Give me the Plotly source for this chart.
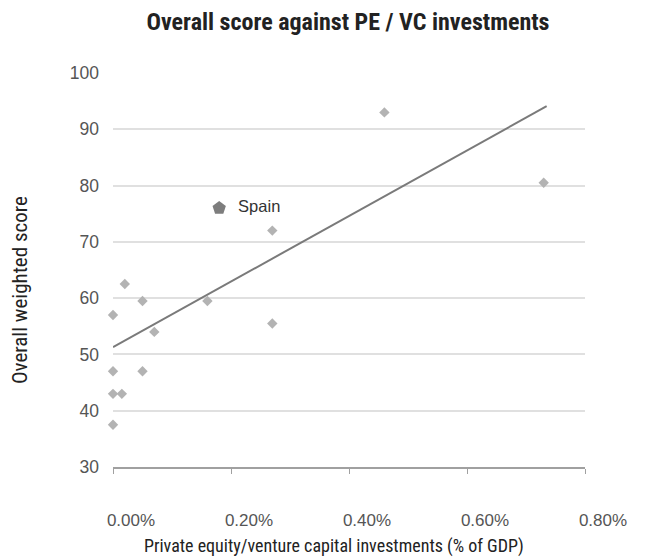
import plotly.graph_objects as go

# Data
pe_vc_pct = [0.46, 0.73, 0.27, 0.27, 0.16, 0.02, 0.05, 0.00, 0.07, 0.00, 0.05, 0.00, 0.015, 0.00]
overall_score = [93.0, 80.5, 72.0, 55.5, 59.5, 62.5, 59.5, 57.0, 54.0, 47.0, 47.0, 43.0, 43.0, 37.5]

spain_x = [0.18]
spain_y = [76.0]
spain_label = ["Spain"]

trend_x = [0.0, 0.735]
trend_y = [51.3, 94.1]

x_ticks = [0.0, 0.2, 0.4, 0.6, 0.8]
x_tick_labels = ["0.00%", "0.20%", "0.40%", "0.60%", "0.80%"]
y_ticks = [30, 40, 50, 60, 70, 80, 90, 100]

title_text = "Overall score against PE / VC investments"
x_title = "Private equity/venture capital investments (% of GDP)"
y_title = "Overall weighted score"

narrow = "Roboto Condensed, Liberation Sans, sans-serif"
helv = "Liberation Sans, Arial, sans-serif"

# page body has an 8px margin, so the figure is sized to fill the rest of the window
W, H = 653, 552

fig = go.Figure()

fig.add_trace(go.Scatter(
    x=pe_vc_pct, y=overall_score, mode="markers",
    marker=dict(symbol="diamond", size=8, color="#b3b3b3"),
    cliponaxis=False, showlegend=False, hoverinfo="x+y",
))

fig.add_trace(go.Scatter(
    x=trend_x, y=trend_y, mode="lines",
    line=dict(color="#7a7a7a", width=2),
    showlegend=False, hoverinfo="skip",
))

fig.add_trace(go.Scatter(
    x=spain_x, y=spain_y, mode="markers+text",
    marker=dict(symbol="pentagon", size=14, color="#7d7d7d"),
    text=["  " + s for s in spain_label], textposition="middle right",
    textfont=dict(family=helv, size=16.5, color="#333333"),
    cliponaxis=False, showlegend=False,
))

fig.add_annotation(
    text=x_title, xref="paper", yref="paper",
    x=(334 - 8 - 105) / 472, y=-(538 - 459) / 394, xanchor="center", yanchor="middle",
    showarrow=False, font=dict(family=narrow, size=18, color="#222222"),
)
fig.add_annotation(
    text=y_title, xref="paper", yref="paper", textangle=-90,
    x=(12 - 105) / 472, y=(459 - 282) / 394, xanchor="center", yanchor="middle",
    showarrow=False, font=dict(family=narrow, size=21, color="#222222"),
)

fig.update_layout(
    width=W, height=H,
    margin=dict(l=105, r=76, t=65, b=93, autoexpand=False),
    paper_bgcolor="white", plot_bgcolor="white",
    title=dict(
        text="<b>" + title_text + "</b>",
        x=340 / W, xanchor="center", y=1 - 14 / H, yanchor="middle",
        font=dict(family=narrow, size=24, color="#222222"),
    ),
    xaxis=dict(
        range=[0, 0.8], tickvals=x_ticks, ticktext=x_tick_labels,
        showgrid=False, zeroline=False, automargin=False,
        showline=True, linecolor="#a0a0a0", linewidth=1.5,
        ticks="outside", ticklen=5, tickcolor="#a0a0a0",
        ticklabelstandoff=32, ticklabelshift=18,
        tickfont=dict(family=helv, size=17, color="#555555"),
    ),
    yaxis=dict(
        range=[30, 100], tickvals=y_ticks, automargin=False,
        showgrid=True, gridcolor="#e0e0e0", gridwidth=1.5,
        zeroline=False, showline=False,
        ticks="", ticklabelstandoff=13,
        tickfont=dict(family=helv, size=17.5, color="#555555"),
    ),
)

fig.write_html("out.html")
